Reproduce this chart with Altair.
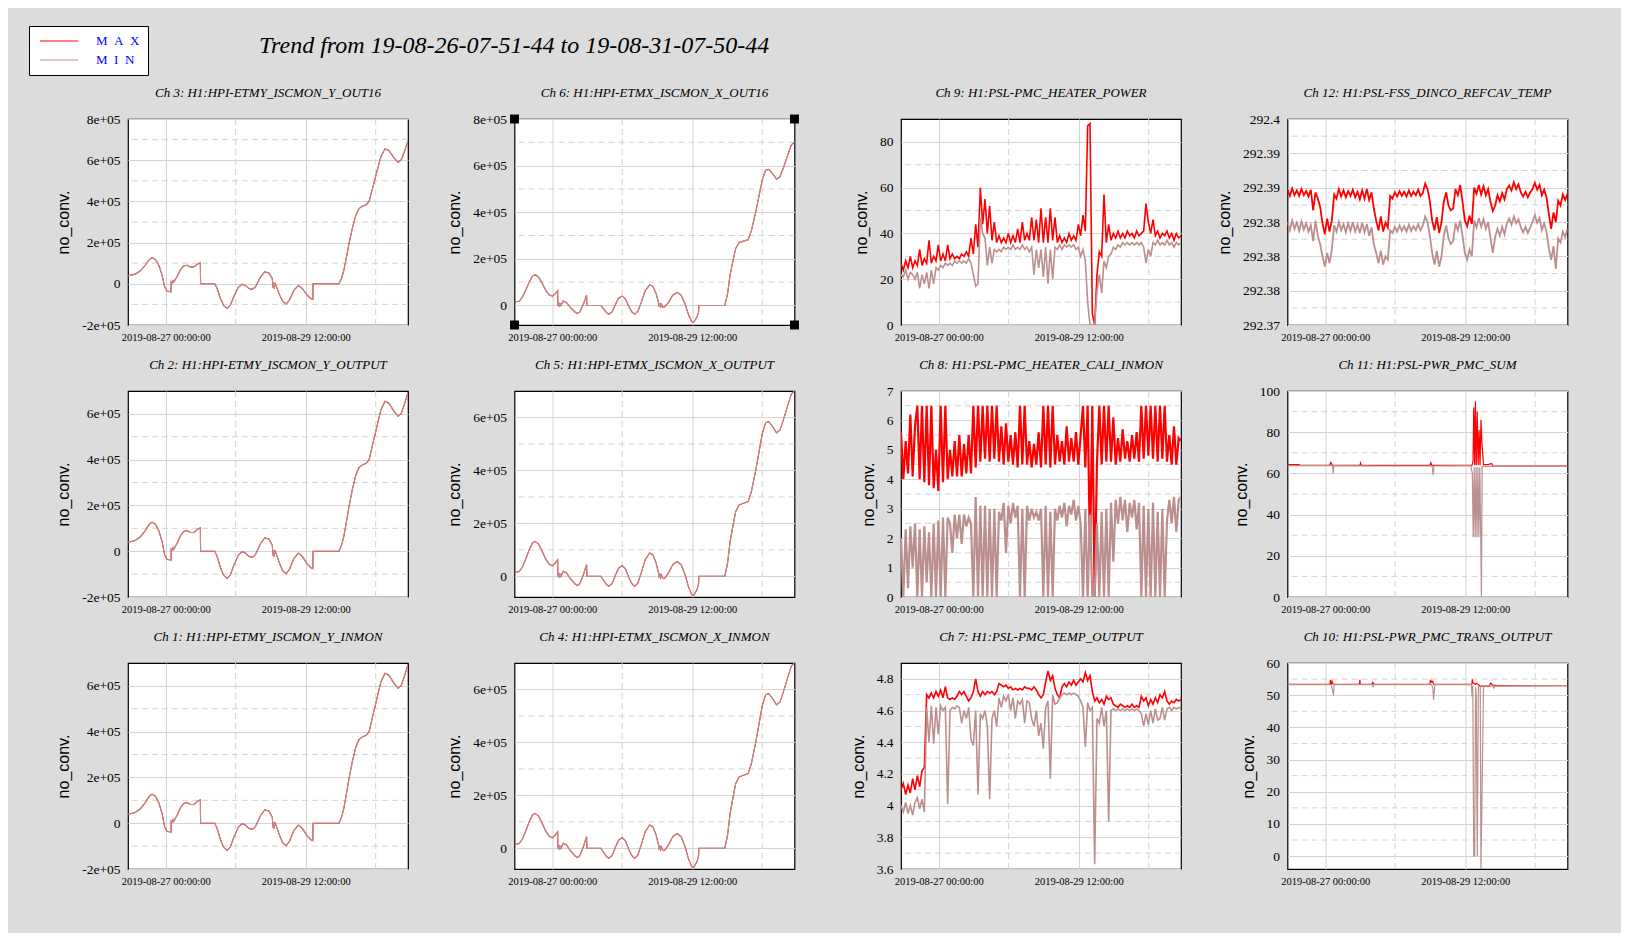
import json
import altair as alt
import pandas as pd

# ---------------- time axis (hours after 19-08-26 07:51:44) ----------------
X_DOMAIN = [0, 119.983]
X_MAJOR = [16.138, 76.138]
X_MAJOR_LABELS = ["2019-08-27 00:00:00", "2019-08-29 12:00:00"]
X_MINOR = [46.138, 106.138]

# ---------------- HPI channels (max == min) ----------------
ETMY_HOURS = [0, 3.1, 5.3, 7.4, 8.9, 10.3, 11.7, 13.2, 14.6, 15.7, 16.7, 18.4, 18.5, 19.0, 19.3, 19.6, 20.2, 21, 22.5, 23.9,
              25.3, 26.7, 28.2, 29.6, 31.0, 31.1, 37.2, 38.2, 39.6, 41, 42.5, 43.9, 45.3, 47.2, 48.9, 50.3, 51.8, 53.2, 54.6,
              56.8, 58.6, 60.4, 61.8, 62.2, 62.4, 62.7, 63.0, 63.3, 65, 66.4, 67.8, 69.2, 71.1, 73, 74.7, 76.8, 78.2, 79.2,
              79.3, 90.4, 91.5, 92.5, 93.5, 94.7, 96.1, 97.6, 99, 100.4, 102.1, 103.3, 104.7, 106.6, 108.3, 110.1, 111.8,
              114, 115.7, 117.1, 118.6, 120]
ETMY_VALUES = [39000, 47000, 63000, 90000, 115000, 127000, 118000, 90000, 42000, -15000, -35000, -39000, 10000, 5000, 15000,
               8000, 20000, 34000, 69000, 87000, 90000, 82000, 82000, 94000, 103000, 0, 0, -23000, -71000, -106000, -119000,
               -103000, -63000, -18000, -2000, -8000, -23000, -27000, -15000, 34000, 58000, 53000, 26000, -20000, 5000,
               -25000, 5000, -5000, -55000, -87000, -98000, -79000, -31000, -8000, -23000, -55000, -71000, -76000, 0, 0,
               26000, 66000, 123000, 195000, 268000, 332000, 365000, 377000, 384000, 400000, 460000, 542000, 615000,
               655000, 647000, 611000, 590000, 602000, 647000, 695000]

ETMX_HOURS = [0, 2, 3.4, 4.8, 6.3, 7.7, 8.8, 10.2, 11.7, 13.4, 14.8, 16.2, 17.3, 18.5, 18.6, 18.9, 19.2, 19.5, 19.9, 20.9,
              22.3, 23.7, 25.9, 27, 28, 29.4, 30.9, 31.0, 37, 38, 39.4, 40.4, 41.8, 43.2, 44.6, 46.1, 47.5, 48.9, 50.3,
              51.5, 52.9, 54.3, 56, 57.9, 59.3, 60.7, 61.7, 62.0, 62.3, 62.6, 63.0, 63.5, 64.5, 66, 67.8, 69.7, 71.4,
              73.1, 74.5, 75.9, 76.8, 78.2, 78.9, 79.0, 90.1, 91.3, 92.4, 93.8, 94.8, 96.3, 98.1, 100.1, 101.5, 103.4,
              104.8, 106.2, 107.6, 109, 110.5, 112.3, 113.7, 115.2, 116.9, 118.6, 119.9]
ETMX_VALUES = [15000, 18000, 35000, 65000, 100000, 126000, 132000, 123000, 98000, 65000, 46000, 40000, 48000, 63000, 0,
               10000, -5000, 8000, 0, 19000, 13000, -6000, -28000, -35000, -28000, 3000, 44000, 0, 0, -13000, -31000,
               -38000, -28000, 3000, 31000, 40000, 29000, -3000, -28000, -38000, -25000, 13000, 63000, 88000, 82000,
               50000, 13000, -5000, 10000, -5000, 5000, -8000, -6000, 13000, 44000, 56000, 44000, 6000, -38000, -69000,
               -72000, -50000, -28000, 0, 0, 50000, 132000, 200000, 245000, 270000, 276000, 282000, 320000, 402000,
               471000, 540000, 580000, 584000, 567000, 542000, 552000, 590000, 640000, 688000, 700000]

# ---------------- PSL channels, hourly samples (h = 0..120) ----------------
HEATER_POWER_MAX = [27, 24, 28, 25, 30, 25, 28, 26, 33, 26, 29, 27, 37, 27, 30, 28, 35, 28, 31, 28, 35, 29, 31, 29, 30,
                    29, 31, 30, 32, 30, 38, 31, 44, 34, 60, 44, 55, 40, 52, 37, 45, 36, 39, 36, 38, 36, 40, 36, 39, 36,
                    42, 36, 45, 37, 40, 37, 47, 37, 46, 36, 51, 36, 47, 36, 51, 37, 47, 36, 39, 36, 38, 36, 40, 37, 39,
                    37, 44, 39, 48, 41, 87, 88, 5, 0, 22, 32, 30, 57, 36, 44, 37, 40, 38, 41, 38, 40, 38, 41, 39, 40, 38,
                    41, 39, 40, 41, 53, 45, 40, 46, 39, 41, 38, 40, 39, 41, 38, 40, 37, 40, 38, 39]
HEATER_POWER_MIN = [22, 21, 24, 20, 23, 22, 20, 23, 16, 22, 18, 23, 16, 24, 18, 25, 24, 26, 25, 27, 26, 27, 26, 28, 27,
                    28, 27, 28, 27, 29, 27, 22, 17, 18, 47, 40, 38, 26, 34, 27, 33, 32, 33, 32, 34, 33, 34, 33, 35, 33,
                    34, 33, 35, 33, 34, 32, 34, 22, 33, 25, 33, 21, 34, 18, 33, 20, 34, 33, 35, 33, 35, 34, 35, 34, 35,
                    33, 34, 30, 33, 28, 10, 0, 0, 0, 15, 22, 14, 28, 25, 30, 31, 34, 33, 35, 34, 36, 35, 36, 35, 36, 35,
                    36, 35, 36, 34, 27, 33, 30, 36, 35, 37, 35, 36, 35, 37, 35, 36, 34, 36, 35, 36]

REFCAV_MAX = [292.3897, 292.3888, 292.3899, 292.3889, 292.3896, 292.3888, 292.3898, 292.3889, 292.3895, 292.3887,
              292.3897, 292.3867, 292.3893, 292.3884, 292.3872, 292.3848, 292.3832, 292.3855, 292.3836, 292.3852,
              292.3890, 292.3884, 292.3898, 292.3887, 292.3896, 292.3886, 292.3895, 292.3888, 292.3897, 292.3886,
              292.3894, 292.3883, 292.3896, 292.3884, 292.3898, 292.3882, 292.3893, 292.3870, 292.3852, 292.3838,
              292.3858, 292.3836, 292.3849, 292.3842, 292.3888, 292.3884, 292.3893, 292.3887, 292.3895, 292.3888,
              292.3894, 292.3887, 292.3896, 292.3888, 292.3894, 292.3889, 292.3897, 292.3888, 292.3892, 292.3906,
              292.3898, 292.3880, 292.3852, 292.3838, 292.3857, 292.3834, 292.3850, 292.3880, 292.3893, 292.3874,
              292.3867, 292.3870, 292.3898, 292.3889, 292.3904, 292.3880, 292.3852, 292.3844, 292.3859, 292.3847,
              292.3900, 292.3891, 292.3904, 292.3890, 292.3902, 292.3889, 292.3898, 292.3879, 292.3866, 292.3874,
              292.3889, 292.3880, 292.3892, 292.3883, 292.3898, 292.3903, 292.3896, 292.3908, 292.3898, 292.3905,
              292.3893, 292.3887, 292.3894, 292.3886, 292.3893, 292.3898, 292.3907, 292.3897, 292.3904, 292.3889,
              292.3897, 292.3886, 292.3862, 292.3840, 292.3864, 292.3850, 292.3881, 292.3874, 292.3890, 292.3882,
              292.3891]
REFCAV_MIN = [292.3850, 292.3838, 292.3852, 292.3840, 292.3849, 292.3837, 292.3851, 292.3839, 292.3848, 292.3836,
              292.3845, 292.3822, 292.3852, 292.3830, 292.3818, 292.3800, 292.3785, 292.3805, 292.3790, 292.3810,
              292.3845, 292.3836, 292.3850, 292.3838, 292.3847, 292.3835, 292.3848, 292.3837, 292.3850, 292.3836,
              292.3846, 292.3834, 292.3849, 292.3835, 292.3847, 292.3830, 292.3842, 292.3818, 292.3805, 292.3790,
              292.3808, 292.3788, 292.3800, 292.3795, 292.3838, 292.3834, 292.3843, 292.3836, 292.3845, 292.3837,
              292.3844, 292.3836, 292.3846, 292.3837, 292.3844, 292.3838, 292.3847, 292.3838, 292.3845, 292.3858,
              292.3850, 292.3830, 292.3805, 292.3788, 292.3808, 292.3785, 292.3800, 292.3830, 292.3845, 292.3826,
              292.3818, 292.3822, 292.3848, 292.3838, 292.3852, 292.3830, 292.3805, 292.3795, 292.3810, 292.3800,
              292.3852, 292.3842, 292.3856, 292.3843, 292.3854, 292.3840, 292.3850, 292.3826, 292.3805, 292.3828,
              292.3840, 292.3830, 292.3843, 292.3832, 292.3848, 292.3855, 292.3846, 292.3858, 292.3848, 292.3854,
              292.3842, 292.3835, 292.3843, 292.3834, 292.3842, 292.3850, 292.3860, 292.3849, 292.3856, 292.3838,
              292.3848, 292.3836, 292.3812, 292.3795, 292.3815, 292.3782, 292.3826, 292.3820, 292.3836, 292.3828,
              292.3840]

CALI_MAX = [5.6, 4.0, 5.3, 4.2, 6.2, 4.1, 5.8, 6.5, 4.0, 6.5, 3.9, 6.5, 3.8, 6.5, 3.7, 5.0, 3.6, 6.5, 3.9, 6.5, 4.0,
            5.0, 4.1, 5.3, 4.1, 5.5, 4.1, 5.2, 4.2, 5.5, 4.2, 6.5, 4.4, 6.5, 4.6, 6.5, 4.7, 6.5, 4.6, 6.5, 4.7, 6.5,
            4.6, 5.8, 4.5, 5.9, 4.6, 5.5, 4.5, 5.6, 4.4, 6.5, 4.5, 6.5, 4.5, 5.3, 4.4, 5.2, 4.5, 5.6, 4.4, 6.5, 4.5,
            6.5, 4.4, 6.5, 4.5, 5.5, 4.6, 5.3, 4.5, 5.8, 4.6, 5.4, 4.6, 5.6, 4.5, 5.5, 6.5, 4.4, 6.5, 1.5, 6.5, 0.0,
            4.6, 6.5, 4.5, 6.5, 4.6, 6.5, 4.6, 6.1, 4.5, 5.4, 4.6, 5.7, 4.7, 5.3, 4.6, 5.5, 4.7, 5.6, 4.6, 6.5, 4.7,
            6.5, 4.8, 6.5, 4.7, 6.5, 4.6, 6.5, 4.7, 6.5, 4.6, 5.5, 4.5, 5.8, 4.5, 5.4, 5.3]
CALI_MIN = [2.0, 0.0, 2.3, 0.3, 2.4, 1.0, 2.5, 0.0, 2.3, 0.0, 2.4, 0.5, 2.2, 0.0, 2.5, 0.0, 2.6, 0.0, 2.7, 0.0, 2.7,
            2.5, 1.5, 2.8, 2.0, 2.8, 1.8, 2.8, 2.4, 2.7, 2.5, 0.0, 3.4, 0.0, 3.1, 0.0, 3.1, 0.0, 3.0, 0.0, 3.0, 0.0,
            2.9, 2.6, 3.2, 1.5, 3.1, 2.5, 3.2, 2.7, 3.1, 0.0, 3.0, 0.0, 3.1, 2.6, 3.0, 2.7, 2.9, 2.6, 3.0, 0.0, 3.1,
            0.0, 2.9, 0.0, 3.0, 2.6, 3.1, 2.7, 3.2, 2.4, 3.1, 2.8, 3.3, 2.6, 3.1, 2.5, 0.0, 3.0, 0.0, 2.8, 0.0, 0.0,
            2.5, 0.0, 2.9, 0.0, 3.0, 0.0, 3.2, 1.2, 3.3, 2.5, 3.4, 2.6, 3.3, 2.2, 3.2, 2.7, 3.3, 2.3, 3.2, 0.0, 3.1,
            0.0, 3.0, 0.0, 3.2, 0.0, 2.9, 0.0, 3.0, 0.0, 2.6, 3.3, 2.5, 3.4, 2.2, 3.3, 3.4]

TEMP_MAX = [4.10, 4.14, 4.07, 4.13, 4.08, 4.17, 4.10, 4.19, 4.12, 4.22, 4.24, 4.70, 4.68, 4.71, 4.68, 4.72, 4.69,
            4.73, 4.68, 4.75, 4.68, 4.67, 4.68, 4.67, 4.69, 4.72, 4.70, 4.72, 4.69, 4.66, 4.68, 4.72, 4.80, 4.72,
            4.69, 4.72, 4.70, 4.72, 4.71, 4.72, 4.70, 4.72, 4.77, 4.76, 4.75, 4.76, 4.74, 4.75, 4.73, 4.74, 4.73,
            4.74, 4.73, 4.75, 4.74, 4.74, 4.73, 4.75, 4.73, 4.70, 4.68, 4.70, 4.78, 4.85, 4.79, 4.82, 4.74, 4.70,
            4.68, 4.75, 4.77, 4.75, 4.78, 4.76, 4.79, 4.76, 4.78, 4.80, 4.78, 4.84, 4.79, 4.82, 4.72, 4.66, 4.68,
            4.65, 4.67, 4.64, 4.69, 4.67, 4.68, 4.64, 4.63, 4.62, 4.64, 4.63, 4.62, 4.63, 4.62, 4.64, 4.62, 4.63,
            4.62, 4.69, 4.66, 4.68, 4.63, 4.67, 4.64, 4.68, 4.65, 4.70, 4.68, 4.72, 4.66, 4.64, 4.66, 4.65, 4.67,
            4.66, 4.67]
TEMP_MIN = [4.00, 3.96, 4.02, 3.95, 4.00, 3.94, 4.02, 4.05, 3.98, 4.04, 3.96, 4.62, 4.40, 4.63, 4.39, 4.62, 4.45,
            4.63, 4.60, 4.62, 4.01, 4.60, 4.62, 4.61, 4.63, 4.62, 4.52, 4.60, 4.55, 4.62, 4.42, 4.38, 4.60, 4.07,
            4.58, 4.55, 4.60, 4.50, 4.04, 4.55, 4.60, 4.50, 4.68, 4.62, 4.69, 4.66, 4.70, 4.60, 4.68, 4.55, 4.66,
            4.64, 4.67, 4.52, 4.66, 4.65, 4.55, 4.50, 4.60, 4.44, 4.52, 4.36, 4.62, 4.66, 4.17, 4.70, 4.64, 4.65,
            4.68, 4.70, 4.71, 4.70, 4.71, 4.70, 4.71, 4.70, 4.69, 4.66, 4.62, 4.37, 4.65, 4.60, 4.62, 3.63, 4.55,
            4.52, 4.62, 4.50, 4.60, 3.90, 4.60, 4.61, 4.60, 4.61, 4.60, 4.61, 4.60, 4.61, 4.60, 4.61, 4.60, 4.61,
            4.60, 4.58, 4.50, 4.58, 4.51, 4.60, 4.52, 4.61, 4.54, 4.55, 4.62, 4.54, 4.61, 4.62, 4.60, 4.62, 4.61,
            4.62, 4.61]

# ---------------- PSL power channels, irregular samples ----------------
PMC_SUM_MAX_HOURS = [0, 5, 5.2, 18, 18.6, 19.2, 31, 31.3, 31.6, 61, 61.4, 61.8, 79, 79.5, 79.8, 80.2, 80.5, 80.9, 81.3,
                     81.7, 82.1, 82.5, 82.9, 83.3, 84, 86, 87.5, 88, 120]
PMC_SUM_MAX = [64.3, 64.3, 63.9, 63.9, 65.3, 63.9, 63.9, 65.0, 63.9, 63.9, 65.2, 63.9, 63.9, 65.5, 92, 64, 95, 64, 90,
               64, 81, 64, 86, 75, 64.3, 64.3, 64.8, 63.5, 63.5]
PMC_SUM_MIN_HOURS = [0, 19.3, 19.6, 19.9, 40, 62.0, 62.4, 62.8, 78.5, 79.2, 79.6, 80.0, 80.4, 80.8, 81.2, 81.6, 82.0,
                     82.4, 82.8, 83.1, 83.4, 84, 120]
PMC_SUM_MIN = [63.8, 63.8, 60.0, 63.8, 63.6, 63.6, 59.2, 63.6, 63.8, 60, 29, 63, 29, 63, 29, 63, 29, 63, 29, 0, 63.5,
               63.4, 63.4]

TRANS_MAX_HOURS = [0, 18.2, 18.4, 18.7, 19.1, 19.5, 30.8, 31.0, 31.2, 36.2, 36.5, 37.0, 61.0, 61.3, 61.7, 62.2, 62.6,
                   79.0, 79.2, 79.5, 80.5, 81.0, 82.0, 82.6, 84, 86.5, 87.0, 88.0, 90.0, 120]
TRANS_MAX = [53.4, 53.4, 54.8, 53.4, 54.3, 53.4, 53.4, 54.8, 53.4, 53.4, 54.0, 53.4, 53.4, 54.8, 54.0, 54.3, 53.4,
             53.4, 54.9, 53.8, 53.4, 53.7, 53.2, 52.8, 52.8, 52.8, 53.8, 53.1, 53.0, 53.0]
TRANS_MIN_HOURS = [0, 18.7, 19.0, 19.7, 20.0, 36.4, 36.7, 37.0, 61.8, 62.3, 62.6, 62.9, 63.2, 78.8, 79.1, 79.4, 79.8,
                   80.2, 80.6, 80.9, 81.3, 81.8, 82.3, 82.6, 82.9, 84, 88, 88.4, 88.8, 120]
TRANS_MIN = [53.3, 53.3, 52.6, 50.0, 53.3, 53.3, 52.7, 53.3, 53.3, 52.2, 48.5, 51.0, 53.3, 53.3, 49.5, 53.0, 0, 0,
             52.5, 49.5, 0, 52.7, 52.7, 52.7, -4.5, 52.8, 52.8, 52.2, 52.8, 53.0]

HOURLY = [i * X_DOMAIN[1] / 120 for i in range(121)]

# ---------------- y axes ----------------
E5_LABELS = {-200000: "-2e+05", 0: "0", 200000: "2e+05", 400000: "4e+05", 600000: "6e+05", 800000: "8e+05"}
REFCAV_TICKS = [292.37, 292.375, 292.38, 292.385, 292.39, 292.395, 292.4]
REFCAV_LABELS = ["292.37", "292.38", "292.38", "292.38", "292.39", "292.39", "292.4"]

SERIES = ["MAX", "MIN"]
SERIES_COLORS = ["#ff0000", "#bc8f8f"]

TITLE_TEXT = "Trend from 19-08-26-07-51-44 to 19-08-31-07-50-44"

GRID = "#d4d4d4"
SERIF = "Liberation Serif"
SANS = "Liberation Sans"


def e5(ticks):
    return [E5_LABELS[t] for t in ticks]


def plain(ticks):
    return [("%g" % t) for t in ticks]


LEGEND = alt.Legend(
    orient="none", legendX=-99, legendY=-93, title=None, direction="vertical",
    symbolType="M-3,0H3", symbolSize=160, symbolStrokeWidth=1, symbolOffset=15,
    labelFont=SERIF, labelFontSize=13, labelColor="blue", labelOffset=30,
    labelExpr="datum.label == 'MAX' ? 'M\u2002A\u2002X' : 'M\u2002I\u2002N'",
    padding=8, strokeColor="black", fillColor="white", rowPadding=5, cornerRadius=0,
)
CSCALE = alt.Scale(domain=SERIES, range=SERIES_COLORS)


def panel(title, ydom, ymajor, ylabels, yminor, max_h, max_v, min_h, min_v, sw=1.0, handles=False):
    xs = alt.Scale(domain=X_DOMAIN, nice=False, zero=False)
    ys = alt.Scale(domain=ydom, nice=False, zero=False)
    x_expr = "%s[indexof(%s, datum.value)]" % (json.dumps(X_MAJOR_LABELS), json.dumps(X_MAJOR))
    y_expr = "%s[indexof(%s, datum.value)]" % (json.dumps(ylabels), json.dumps(ymajor))
    xaxis = alt.Axis(values=X_MAJOR, labelExpr=x_expr, grid=True, gridColor=GRID, domain=False, ticks=False,
                     labelFont=SERIF, labelFontSize=10.5, labelPadding=7, labelColor="black", title=None)
    yaxis = alt.Axis(values=ymajor, labelExpr=y_expr, grid=True, gridColor=GRID, domain=False, ticks=False,
                     labelFont=SERIF, labelFontSize=13.5, labelPadding=8, labelColor="black",
                     title="no_conv.", titleFont=SANS, titleFontSize=16, titleFontWeight="normal",
                     titleColor="black", titlePadding=10)
    X = alt.X("h:Q", scale=xs, axis=xaxis)
    Y = alt.Y("v:Q", scale=ys, axis=yaxis)
    dmax = pd.DataFrame({"h": max_h, "v": max_v, "series": "MAX"})
    dmin = pd.DataFrame({"h": min_h, "v": min_v, "series": "MIN"})
    inner_minor = [m for m in yminor if ydom[0] < m < ydom[1]]
    vr = alt.Chart(pd.DataFrame({"h": X_MINOR})).mark_rule(color=GRID, strokeDash=[6, 4], strokeWidth=1).encode(x=X)
    hr = alt.Chart(pd.DataFrame({"v": inner_minor})).mark_rule(color=GRID, strokeDash=[6, 4], strokeWidth=1).encode(y=Y)
    col = alt.Color("series:N", scale=CSCALE, legend=LEGEND)
    lmax = alt.Chart(dmax).mark_line(strokeWidth=sw, clip=True).encode(x=X, y=Y, color=col)
    lmin = alt.Chart(dmin).mark_line(strokeWidth=sw, clip=True).encode(x=X, y=Y, color=col)
    layers = [vr, hr, lmax, lmin]
    if handles:
        corners = pd.DataFrame({"h": [X_DOMAIN[0], X_DOMAIN[1], X_DOMAIN[0], X_DOMAIN[1]],
                                "v": [ydom[0], ydom[0], ydom[1], ydom[1]]})
        sq = alt.Chart(corners).mark_square(size=80, color="black", opacity=1, clip=False).encode(x=X, y=Y)
        layers.append(sq)
    top_label = ymajor[-1] == ydom[1]
    return alt.layer(*layers).properties(
        width=280, height=206,
        title=alt.TitleParams(title, font=SERIF, fontStyle="italic", fontSize=13, fontWeight="normal",
                              color="black", anchor="middle", offset=12 if top_label else 19),
    )


T1 = [-200000, 0, 200000, 400000, 600000, 800000]
T2 = [0, 200000, 400000, 600000, 800000]
T3 = [-200000, 0, 200000, 400000, 600000]
T4 = [0, 200000, 400000, 600000]

ch3 = panel("Ch 3: H1:HPI-ETMY_ISCMON_Y_OUT16", [-200000, 800000], T1, e5(T1),
            [-100000, 100000, 300000, 500000, 700000], ETMY_HOURS, ETMY_VALUES, ETMY_HOURS, ETMY_VALUES, 1.1)
ch6 = panel("Ch 6: H1:HPI-ETMX_ISCMON_X_OUT16", [-84000, 800000], T2, e5(T2),
            [100000, 300000, 500000, 700000], ETMX_HOURS, ETMX_VALUES, ETMX_HOURS, ETMX_VALUES, 1.1, handles=True)
ch9 = panel("Ch 9: H1:PSL-PMC_HEATER_POWER", [0, 90], [0, 20, 40, 60, 80], plain([0, 20, 40, 60, 80]),
            [10, 30, 50, 70, 90], HOURLY, HEATER_POWER_MAX, HOURLY, HEATER_POWER_MIN, 1.6)
ch12 = panel("Ch 12: H1:PSL-FSS_DINCO_REFCAV_TEMP", [292.37, 292.4], REFCAV_TICKS, REFCAV_LABELS,
             [292.3725, 292.3775, 292.3825, 292.3875, 292.3925, 292.3975], HOURLY, REFCAV_MAX, HOURLY, REFCAV_MIN, 1.8)

ch2 = panel("Ch 2: H1:HPI-ETMY_ISCMON_Y_OUTPUT", [-200000, 700000], T3, e5(T3),
            [-100000, 100000, 300000, 500000, 700000], ETMY_HOURS, ETMY_VALUES, ETMY_HOURS, ETMY_VALUES, 1.1)
ch5 = panel("Ch 5: H1:HPI-ETMX_ISCMON_X_OUTPUT", [-78000, 700000], T4, e5(T4),
            [100000, 300000, 500000, 700000], ETMX_HOURS, ETMX_VALUES, ETMX_HOURS, ETMX_VALUES, 1.1)
ch8 = panel("Ch 8: H1:PSL-PMC_HEATER_CALI_INMON", [0, 7], [0, 1, 2, 3, 4, 5, 6, 7], plain([0, 1, 2, 3, 4, 5, 6, 7]),
            [0.5, 1.5, 2.5, 3.5, 4.5, 5.5, 6.5], HOURLY, CALI_MAX, HOURLY, CALI_MIN, 2.2)
ch11 = panel("Ch 11: H1:PSL-PWR_PMC_SUM", [0, 100], [0, 20, 40, 60, 80, 100], plain([0, 20, 40, 60, 80, 100]),
             [10, 30, 50, 70, 90], PMC_SUM_MAX_HOURS, PMC_SUM_MAX, PMC_SUM_MIN_HOURS, PMC_SUM_MIN, 1.2)

ch1 = panel("Ch 1: H1:HPI-ETMY_ISCMON_Y_INMON", [-200000, 700000], T3, e5(T3),
            [-100000, 100000, 300000, 500000, 700000], ETMY_HOURS, ETMY_VALUES, ETMY_HOURS, ETMY_VALUES, 1.1)
ch4 = panel("Ch 4: H1:HPI-ETMX_ISCMON_X_INMON", [-78000, 700000], T4, e5(T4),
            [100000, 300000, 500000, 700000], ETMX_HOURS, ETMX_VALUES, ETMX_HOURS, ETMX_VALUES, 1.1)
ch7 = panel("Ch 7: H1:PSL-PMC_TEMP_OUTPUT", [3.6, 4.9], [3.6, 3.8, 4.0, 4.2, 4.4, 4.6, 4.8],
            plain([3.6, 3.8, 4.0, 4.2, 4.4, 4.6, 4.8]), [3.7, 3.9, 4.1, 4.3, 4.5, 4.7, 4.9],
            HOURLY, TEMP_MAX, HOURLY, TEMP_MIN, 1.6)
ch10 = panel("Ch 10: H1:PSL-PWR_PMC_TRANS_OUTPUT", [-4, 60], [0, 10, 20, 30, 40, 50, 60],
             plain([0, 10, 20, 30, 40, 50, 60]), [5, 15, 25, 35, 45, 55],
             TRANS_MAX_HOURS, TRANS_MAX, TRANS_MIN_HOURS, TRANS_MIN, 1.2)

chart = alt.concat(
    ch3, ch6, ch9, ch12,
    ch2, ch5, ch8, ch11,
    ch1, ch4, ch7, ch10,
    columns=4, spacing={"row": 66, "column": 106.5}, bounds="flush",
).properties(
    title=alt.TitleParams(TITLE_TEXT, font=SERIF, fontStyle="italic", fontSize=24, fontWeight="normal",
                          color="black", anchor="start", frame="group", dx=131, offset=0, dy=32),
).configure(
    background="#dcdcdc",
    padding={"left": 20, "top": 17, "right": 52, "bottom": 45},
).configure_view(
    stroke="black", strokeWidth=1.2, fill="white",
)

chart.save("out.html", embed_options={"renderer": "svg", "actions": False})
